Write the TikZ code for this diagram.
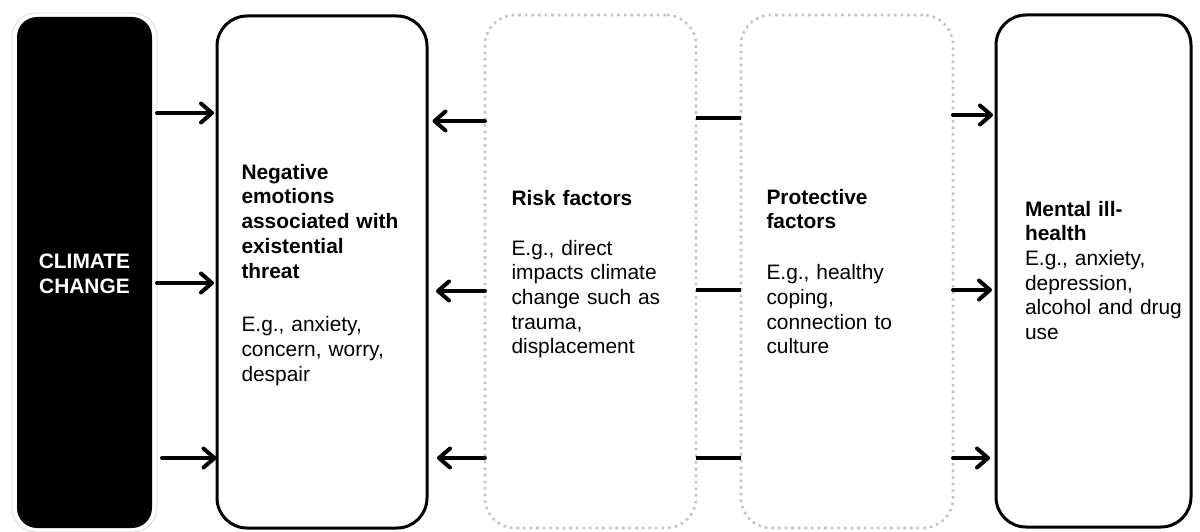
\documentclass[tikz,border=0pt]{standalone}
\usepackage{fontspec}
\setmainfont{Liberation Sans}
\usetikzlibrary{arrows.meta}
\definecolor{dotgray}{HTML}{C4C4C4}
\definecolor{halo}{HTML}{D8D8D8}
\tikzset{
  solidbox/.style={draw=black, line width=3pt, rounded corners=30pt, outer sep=0pt, inner sep=0pt},
  dotbox/.style={draw=dotgray, line width=2.6pt, dash pattern=on 2.6pt off 4pt, rounded corners=30pt, outer sep=0pt, inner sep=0pt},
  boxtext/.style={anchor=base west, inner sep=0pt, outer sep=0pt, text width=190pt, align=left,
    font=\fontsize{20.9pt}{24.7pt}\selectfont},
  arr/.style={line width=4pt, line cap=round, -{Straight Barb[length=11pt,width=19pt,round]}},
  link/.style={line width=4pt}
}
\begin{document}
\begin{tikzpicture}[x=1pt,y=-1pt]
\useasboundingbox (0,0) rectangle (1200,532);
% climate change box
\node[draw=halo, fill=white, line width=0.8pt, rounded corners=24pt, minimum width=145pt, minimum height=519pt, outer sep=0pt] (ccframe) at (84.5,272.5) {};
\node[fill=black, rounded corners=20pt, minimum width=135pt, minimum height=511pt, outer sep=0pt] (cc) at (84.5,272.5) {};
\node[anchor=base, inner sep=0pt, text width=135pt, align=center, text=white,
  font=\fontsize{20.9pt}{25pt}\selectfont\bfseries] (cctext) at (84.5,268) {CLIMATE\\CHANGE};
% boxes
\node[solidbox, minimum width=210pt, minimum height=512pt] (neg) at (322,272) {};
\node[dotbox, minimum width=211pt, minimum height=513pt] (risk) at (590.5,271.5) {};
\node[dotbox, minimum width=212pt, minimum height=513pt] (prot) at (847,271.5) {};
\node[solidbox, minimum width=195pt, minimum height=512pt] (ill) at (1093.5,271) {};
% texts
\node[boxtext] (negtext) at (241.5,179.3) {\textbf{Negative}\\\textbf{emotions}\\\textbf{associated with}\\\textbf{existential}\\\textbf{threat}\\[29.2pt]E.g., anxiety,\\concern, worry,\\despair};
\node[boxtext] (risktext) at (511.5,205) {\textbf{Risk factors}\\[25.3pt]E.g., direct\\impacts climate\\change such as\\trauma,\\displacement};
\node[boxtext] (prottext) at (766.5,204.3) {\textbf{Protective}\\\textbf{factors}\\[26pt]E.g., healthy\\coping,\\connection to\\culture};
\node[boxtext] (illtext) at (1025,216) {\textbf{Mental ill-}\\\textbf{health}\\E.g., anxiety,\\depression,\\alcohol and drug\\use};
% row 1
\draw[arr, shorten >=3pt] (ccframe.east |- 0,113) -- (neg.west |- 0,113);
\draw[arr, shorten >=5.5pt] (risk.west |- 0,121) -- (neg.east |- 0,121);
\draw[link] (risk.east |- 0,118) -- (prot.west |- 0,118);
\draw[arr, shorten >=3pt] (prot.east |- 0,115) -- (ill.west |- 0,115);
% row 2
\draw[arr, shorten >=3pt] (ccframe.east |- 0,283) -- (neg.west |- 0,283);
\draw[arr, shorten >=9pt] (risk.west |- 0,291) -- (neg.east |- 0,291);
\draw[link] (risk.east |- 0,290) -- (prot.west |- 0,290);
\draw[arr, shorten >=4pt] (prot.east |- 0,290) -- (ill.west |- 0,290);
% row 3
\draw[arr, shorten <=5pt, shorten >=0.5pt] (ccframe.east |- 0,458) -- (neg.west |- 0,458);
\draw[arr, shorten >=10pt] (risk.west |- 0,458) -- (neg.east |- 0,458);
\draw[link] (risk.east |- 0,458) -- (prot.west |- 0,458);
\draw[arr, shorten >=6pt] (prot.east |- 0,458) -- (ill.west |- 0,458);
\end{tikzpicture}
\end{document}
